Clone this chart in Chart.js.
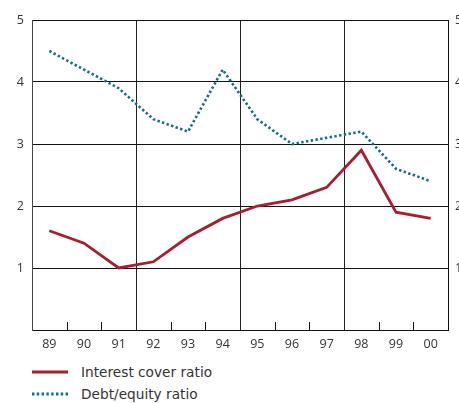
<!DOCTYPE html>
<html>
<head>
<meta charset="utf-8">
<script src="https://cdn.jsdelivr.net/npm/chart.js@4/dist/chart.umd.min.js"></script>
<style>
  html, body { margin: 0; padding: 0; background: #fff; width: 459px; height: 403px; overflow: hidden; }
  #wrap { position: relative; width: 475px; height: 403px; }
  #chart { position: absolute; left: 0; top: 0; }
  #legend { position: absolute; left: 32px; top: 361px; font-family: "DejaVu Sans", sans-serif; font-size: 13.7px; color: #333; }
  .item { display: flex; align-items: center; height: 22px; }
  .item svg { width: 36px; height: 6px; margin-right: 13px; }
</style>
</head>
<body>
<div id="wrap">
  <canvas id="chart" width="475" height="360"></canvas>
  <div id="legend"></div>
</div>
<script>
// Financial years and the two ratios
const years = ['89', '90', '91', '92', '93', '94', '95', '96', '97', '98', '99', '00'];
const interestCover = [1.6, 1.4, 1.0, 1.1, 1.5, 1.8, 2.0, 2.1, 2.3, 2.9, 1.9, 1.8];
const debtEquity = [4.5, 4.2, 3.9, 3.4, 3.2, 4.2, 3.4, 3.0, 3.1, 3.2, 2.6, 2.4];
const yTicks = [1, 2, 3, 4, 5];

const seriesLabels = ['Interest cover ratio', 'Debt/equity ratio'];
const RED = '#a81e2e';
const TEAL = '#10707f';
const FONT = { family: '"Open Sans", sans-serif', size: 12.5 };

// Short inward tick marks on the category boundaries along the bottom axis
const innerTicks = {
  id: 'innerTicks',
  afterDatasetsDraw(chart) {
    const x = chart.scales.x;
    const bottom = chart.chartArea.bottom;
    const ctx = chart.ctx;
    ctx.save();
    ctx.strokeStyle = '#111';
    ctx.lineWidth = 1;
    for (let i = 0; i < years.length - 1; i++) {
      if ((i + 1) % 3 === 0) continue;
      const px = Math.round((x.getPixelForValue(i) + x.getPixelForValue(i + 1)) / 2) + 0.5;
      ctx.beginPath();
      ctx.moveTo(px, bottom);
      ctx.lineTo(px, bottom - 8);
      ctx.stroke();
    }
    ctx.restore();
  }
};

const tickLabel = v => (yTicks.includes(v) ? String(v) : '');

new Chart(document.getElementById('chart'), {
  type: 'line',
  data: {
    labels: years,
    datasets: [
      {
        label: seriesLabels[0],
        data: interestCover,
        borderColor: RED,
        borderWidth: 2.8,
        pointRadius: 0,
        tension: 0,
        order: 1
      },
      {
        label: seriesLabels[1],
        data: debtEquity,
        borderColor: TEAL,
        borderWidth: 2.6,
        borderDash: [2.4, 2.4],
        borderCapStyle: 'butt',
        pointRadius: 0,
        tension: 0,
        order: 2
      }
    ]
  },
  options: {
    responsive: false,
    animation: false,
    devicePixelRatio: 1,
    layout: { padding: { top: 20, left: 0, right: 0, bottom: 0 } },
    plugins: { legend: { display: false }, tooltip: { enabled: false } },
    scales: {
      x: {
        type: 'category',
        offset: true,
        grid: {
          offset: true,
          drawTicks: false,
          lineWidth: 1,
          color: c => (c.index > 0 && c.index < years.length && c.index % 3 === 0 ? '#222' : 'rgba(0,0,0,0)')
        },
        border: { display: true, color: '#111', width: 1 },
        ticks: { color: '#333', font: FONT, padding: 7, maxRotation: 0, autoSkip: false },
        afterFit(s) { s.height = 30; }
      },
      y: {
        position: 'left',
        min: 0,
        max: 5,
        grid: {
          drawTicks: false,
          lineWidth: 1,
          color: c => (c.tick && c.tick.value > 0 ? '#111' : 'rgba(0,0,0,0)')
        },
        border: { display: true, color: '#444', width: 1 },
        ticks: { stepSize: 1, color: '#333', font: FONT, padding: 8, callback: tickLabel },
        afterFit(s) { s.width = 32; }
      },
      y2: {
        position: 'right',
        min: 0,
        max: 5,
        grid: { drawOnChartArea: false, drawTicks: false },
        border: { display: true, color: '#111', width: 1 },
        ticks: { stepSize: 1, color: '#333', font: FONT, padding: 7, callback: tickLabel },
        afterFit(s) { s.width = 27; }
      }
    }
  },
  plugins: [innerTicks]
});

// Legend rows built from the dataset settings
const legend = document.getElementById('legend');
[[seriesLabels[0], RED, ''], [seriesLabels[1], TEAL, '2.4 2.4']].forEach(([text, color, dash]) => {
  const row = document.createElement('div');
  row.className = 'item';
  row.innerHTML =
    '<svg viewBox="0 0 36 6"><line x1="0" y1="3" x2="36" y2="3" stroke="' + color +
    '" stroke-width="2.8"' + (dash ? ' stroke-dasharray="' + dash + '"' : '') + '/></svg>';
  const span = document.createElement('span');
  span.textContent = text;
  row.appendChild(span);
  legend.appendChild(row);
});
</script>
</body>
</html>
